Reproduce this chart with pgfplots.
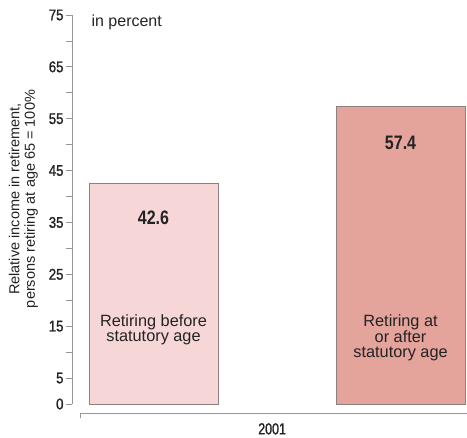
\documentclass[border=0pt]{standalone}
\usepackage{fontspec}
\setmainfont{Liberation Sans}
\newfontfamily\cond[FakeStretch=0.85,FakeBold=1.2]{Liberation Sans}
\newfontfamily\condx[FakeStretch=0.78,FakeBold=1.2]{Liberation Sans}
\newfontfamily\condb[FakeStretch=0.82]{Liberation Sans}
\usepackage{pgfplots}
\pgfplotsset{compat=1.18}
\definecolor{barA}{RGB}{246,214,214}
\definecolor{barB}{RGB}{228,163,155}
\definecolor{edge}{RGB}{140,128,128}
\definecolor{axisgray}{RGB}{150,150,150}
\definecolor{txt}{RGB}{35,35,35}
\begin{document}
\begin{tikzpicture}
\useasboundingbox (-72pt,-34pt) rectangle (395pt,404pt);
\begin{axis}[
  at={(0,0)}, anchor=south west,
  scale only axis, width=395pt, height=389pt,
  xmin=-0.33, xmax=1.269, ymin=0, ymax=75,
  axis x line=none, axis y line=left,
  axis line style={-, axisgray, line width=0.8pt},
  clip=false,
  ytick={0,5,15,25,35,45,55,65,75},
  minor ytick={10,20,30,40,50,60,70},
  tick align=outside,
  major tick length=6pt, minor tick length=6pt,
  every tick/.style={axisgray, line width=0.8pt},
  /pgf/number format/assume math mode=true,
  yticklabel style={font=\cond\fontsize{15.5}{15.5}\selectfont, text=txt, xshift=1pt},
  ylabel={Relative income in retirement,\\persons retiring at age 65 = 100\%},
  ylabel style={align=center, font=\fontsize{14.5}{15.5}\selectfont, text=txt,
    at={(axis description cs:-0.1228,0.527)}, anchor=center, rotate=0},
]
\addplot[ybar, bar shift=0pt, bar width=0.522, fill=barA, draw=edge, line width=0.8pt] coordinates {(0,42.6)};
\addplot[ybar, bar shift=0pt, bar width=0.522, fill=barB, draw=edge, line width=0.8pt] coordinates {(1,57.4)};
\node[font=\condb\bfseries\fontsize{19.5}{19.5}\selectfont, text=txt] at (axis cs:0,35.9) {42.6};
\node[font=\condb\bfseries\fontsize{19.5}{19.5}\selectfont, text=txt] at (axis cs:1,50.4) {57.4};
\node[align=center, font=\fontsize{16.3}{15}\selectfont, text=txt] at (axis cs:0,14.3) {Retiring before\\statutory age};
\node[align=center, font=\fontsize{16.3}{15}\selectfont, text=txt] at (axis cs:1,12.7) {Retiring at\\or after\\statutory age};
\node[anchor=base west, font=\fontsize{16}{15}\selectfont, text=txt] at (axis cs:-0.265,72.8) {in percent};
\node[font=\condx\fontsize{16}{16}\selectfont, text=txt] at (axis cs:0.48,-4.8) {2001};
\end{axis}
\draw[axisgray, line width=0.8pt] (8pt,-14pt) -- (8pt,-9pt) -- (395pt,-9pt);
\end{tikzpicture}
\end{document}
